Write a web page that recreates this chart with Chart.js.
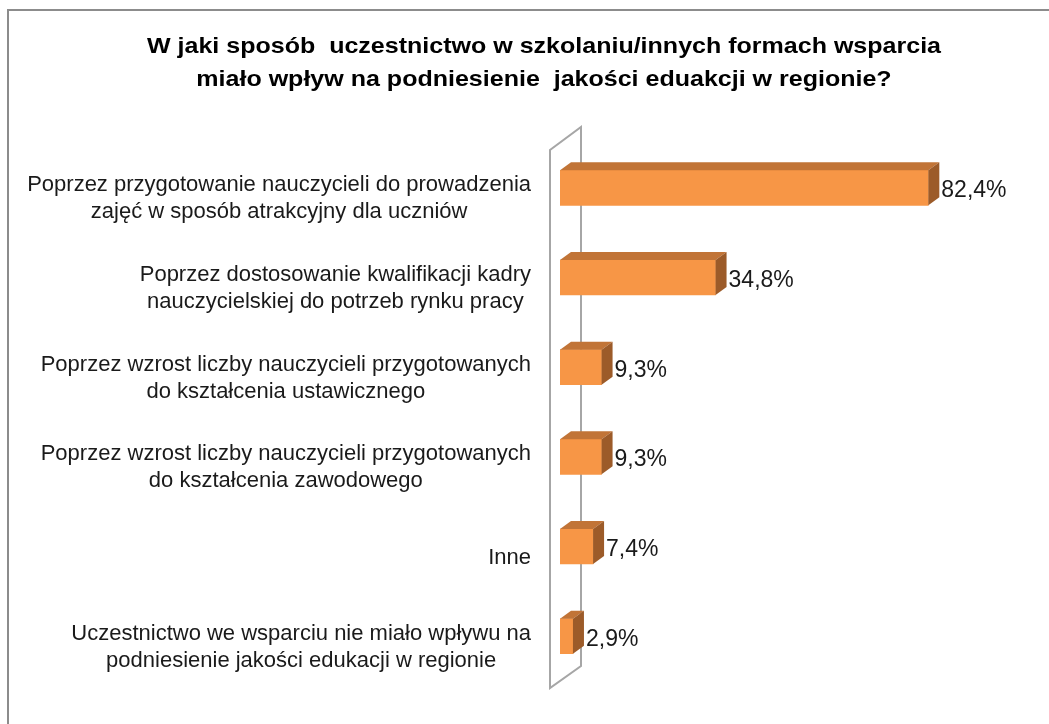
<!DOCTYPE html>
<html>
<head>
<meta charset="utf-8">
<script src="https://cdn.jsdelivr.net/npm/chart.js@4.4.1/dist/chart.umd.min.js"></script>
<style>
html,body{margin:0;padding:0;background:#fff;}
#wrap{width:1049px;height:724px;position:relative;}
</style>
</head>
<body>
<div id="wrap"><canvas id="c"></canvas></div>
<script>
const titleLines = [
  "W jaki sposób  uczestnictwo w szkolaniu/innych formach wsparcia",
  "miało wpływ na podniesienie  jakości eduakcji w regionie?"
];
const categories = [
  ["Poprzez przygotowanie nauczycieli do prowadzenia", "zajęć w sposób atrakcyjny dla uczniów"],
  ["Poprzez dostosowanie kwalifikacji kadry", "nauczycielskiej do potrzeb rynku pracy"],
  ["Poprzez wzrost liczby nauczycieli przygotowanych", "do kształcenia ustawicznego"],
  ["Poprzez wzrost liczby nauczycieli przygotowanych", "do kształcenia zawodowego"],
  ["Inne"],
  ["Uczestnictwo we wsparciu nie miało wpływu na", "podniesienie jakości edukacji w regionie"]
];
const values = [82.4, 34.8, 9.3, 9.3, 7.4, 2.9];
const axisMin = 0;
const axisMax = 100;

const FONT = "'Liberation Sans', Arial, sans-serif";
const DX = 11, DY = -8;

const decor = {
  id: 'decor',
  beforeDraw(chart) {
    const ctx = chart.ctx;
    ctx.save();
    ctx.fillStyle = '#fff';
    ctx.fillRect(0, 0, chart.width, chart.height);
    ctx.strokeStyle = '#8c8c8c';
    ctx.lineWidth = 2;
    ctx.strokeRect(8, 10, chart.width + 50, chart.height + 50);
    // title
    ctx.fillStyle = '#000';
    ctx.font = 'bold 22px ' + FONT;
    ctx.textAlign = 'center';
    ctx.textBaseline = 'middle';
    const w0 = ctx.measureText(titleLines[0]).width;
    const sx = 794 / w0;
    titleLines.forEach((t, i) => {
      ctx.save();
      ctx.translate(544, 47 + i * 33);
      ctx.scale(sx, 1);
      ctx.fillText(t, 0, 0);
      ctx.restore();
    });
    ctx.restore();
  },
  beforeDatasetsDraw(chart) {
    const {ctx, chartArea: a} = chart;
    ctx.save();
    ctx.strokeStyle = '#a6a6a6';
    ctx.lineWidth = 2;
    const fx = a.left - 10, bx = a.left + 21;
    ctx.beginPath();
    ctx.moveTo(fx, a.top + 7);
    ctx.lineTo(fx, a.bottom + 7);
    ctx.lineTo(bx, a.bottom - 15);
    ctx.lineTo(bx, a.top - 16);
    ctx.closePath();
    ctx.stroke();
    ctx.restore();
  },
  afterDatasetsDraw(chart) {
    const ctx = chart.ctx;
    const meta = chart.getDatasetMeta(0);
    ctx.save();
    meta.data.forEach((bar, i) => {
      const h = bar.height;
      const top = bar.y - h / 2, bottom = bar.y + h / 2;
      const left = bar.base, right = bar.x;
      ctx.fillStyle = '#c17437';
      ctx.beginPath();
      ctx.moveTo(left, top);
      ctx.lineTo(left + DX, top + DY);
      ctx.lineTo(right + DX, top + DY);
      ctx.lineTo(right, top);
      ctx.closePath();
      ctx.fill();
      ctx.fillStyle = '#9c5b29';
      ctx.beginPath();
      ctx.moveTo(right, top);
      ctx.lineTo(right + DX, top + DY);
      ctx.lineTo(right + DX, bottom + DY);
      ctx.lineTo(right, bottom);
      ctx.closePath();
      ctx.fill();
      // value label
      ctx.fillStyle = '#1a1a1a';
      ctx.font = '23px ' + FONT;
      ctx.textAlign = 'left';
      ctx.textBaseline = 'middle';
      const txt = values[i].toFixed(1).replace('.', ',') + '%';
      ctx.fillText(txt, right + DX + 2, bar.y + 3);
    });
    // category labels
    const ys = chart.scales.y;
    ctx.font = '22px ' + FONT;
    ctx.fillStyle = '#1a1a1a';
    ctx.textAlign = 'center';
    ctx.textBaseline = 'middle';
    const lh = 27;
    categories.forEach((lines, i) => {
      const cy = ys.getPixelForValue(i) + 11;
      const w = Math.max(...lines.map(l => ctx.measureText(l).width));
      const cx = 531 - w / 2;
      const y0 = cy - (lines.length - 1) * lh / 2;
      lines.forEach((l, j) => ctx.fillText(l, cx, y0 + j * lh));
    });
    ctx.restore();
  }
};

new Chart(document.getElementById('c'), {
  type: 'bar',
  data: {
    labels: categories,
    datasets: [{
      data: values,
      backgroundColor: '#f79646',
      borderWidth: 0,
      barThickness: 35
    }]
  },
  options: {
    indexAxis: 'y',
    responsive: true,
    maintainAspectRatio: false,
    animation: false,
    layout: { padding: { left: 0, right: 42, top: 143, bottom: 43 } },
    plugins: {
      legend: { display: false },
      tooltip: { enabled: false },
      title: { display: false }
    },
    scales: {
      x: { display: false, min: axisMin, max: axisMax },
      y: {
        ticks: { display: false },
        grid: { display: false },
        border: { display: false },
        afterFit(scale) { scale.width = 560; }
      }
    }
  },
  plugins: [decor]
});
</script>
</body>
</html>
